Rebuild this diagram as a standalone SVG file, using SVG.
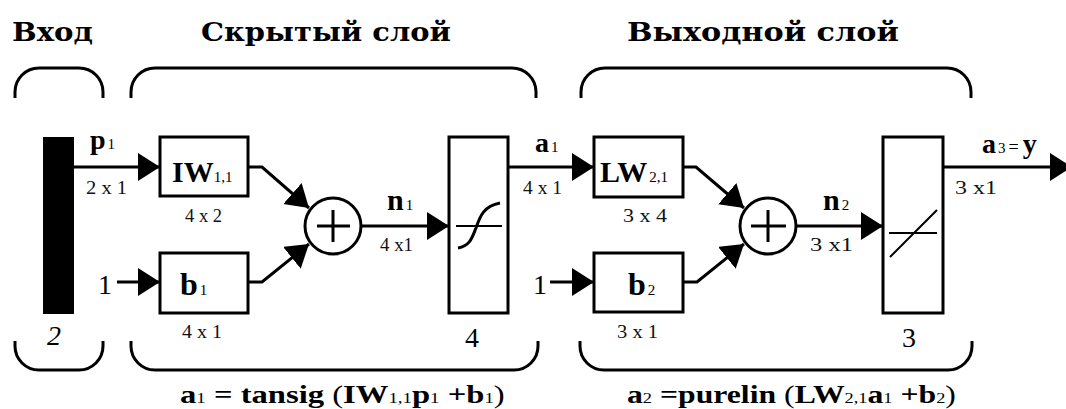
<svg xmlns="http://www.w3.org/2000/svg" width="1066" height="409" viewBox="0 0 1066 409">
<style>
.ln{fill:none;stroke:#000;stroke-width:3}
.thin{fill:none;stroke:#000;stroke-width:2}
.box{fill:#fff;stroke:#000;stroke-width:3}
.title{font-family:"DejaVu Serif","Liberation Serif",serif;font-weight:bold;font-size:26px;fill:#000}
.tx{font-family:"Liberation Serif","Times New Roman",serif;fill:#000}
.b{font-weight:bold}
.dim{font-family:"Liberation Serif","Times New Roman",serif;font-size:19px;fill:#111}
.num{font-family:"Liberation Serif","Times New Roman",serif;font-size:28px;fill:#000}
.s{font-size:15px;font-weight:normal}
</style>
<defs>
<marker id="ah" markerUnits="userSpaceOnUse" viewBox="0 0 24 30" markerWidth="24" markerHeight="30" refX="22" refY="14" orient="auto">
<path d="M0,0 L22,14 L0,28 z" fill="#000"/>
</marker>
</defs>
<rect width="1066" height="409" fill="#fff"/>

<g id="titles">
<text class="title" x="12" y="41" textLength="81" lengthAdjust="spacingAndGlyphs">Вход</text>
<text class="title" x="201" y="41" textLength="250" lengthAdjust="spacingAndGlyphs">Скрытый слой</text>
<text class="title" x="627" y="41" textLength="272" lengthAdjust="spacingAndGlyphs">Выходной слой</text>
</g>

<g id="brackets">
<path class="ln" d="M15,98 V92 A24,24 0 0 1 39,68 H79 A24,24 0 0 1 103,92 V98"/>
<path class="ln" d="M131,98 V92 A24,24 0 0 1 155,68 H512 A24,24 0 0 1 536,92 V98"/>
<path class="ln" d="M581,98 V92 A24,24 0 0 1 605,68 H947 A24,24 0 0 1 971,92 V98"/>
<path class="ln" d="M15,341 V346 A24,24 0 0 0 39,370 H79 A24,24 0 0 0 103,346 V341"/>
<path class="ln" d="M131,341 V346 A24,24 0 0 0 155,370 H514 A24,24 0 0 0 538,346 V341"/>
<path class="ln" d="M580,341 V346 A24,24 0 0 0 604,370 H948 A24,24 0 0 0 972,346 V341"/>
</g>

<g id="connectors">
<path class="ln" d="M74,167 H160" marker-end="url(#ah)"/>
<path class="ln" d="M117,282 H160" marker-end="url(#ah)"/>
<path class="ln" d="M248,167 H262 L309,208" marker-end="url(#ah)"/>
<path class="ln" d="M248,282 H262 L309,244" marker-end="url(#ah)"/>
<path class="ln" d="M361,226 H449" marker-end="url(#ah)"/>
<path class="ln" d="M508,167 H594" marker-end="url(#ah)"/>
<path class="ln" d="M550,282 H594" marker-end="url(#ah)"/>
<path class="ln" d="M683,167 H696 L744,208" marker-end="url(#ah)"/>
<path class="ln" d="M683,282 H697 L744,244" marker-end="url(#ah)"/>
<path class="ln" d="M796,226 H883" marker-end="url(#ah)"/>
<path class="ln" d="M943,167 H1072" marker-end="url(#ah)"/>
</g>

<g id="input">
<rect x="43" y="137" width="31" height="177" fill="#000"/>
<text class="num" x="47" y="345" font-style="italic">2</text>
</g>

<g id="IW">
<rect class="box" x="160" y="137" width="88" height="59"/>
<text class="tx b" x="172" y="182" font-size="30">IW<tspan class="s" font-size="15">1,1</tspan></text>
</g>

<g id="b1">
<rect class="box" x="160" y="253" width="88" height="60"/>
<text class="tx b" x="180" y="295" font-size="32">b<tspan class="s" font-size="16" dx="2">1</tspan></text>
</g>

<g id="sum1">
<circle class="ln" cx="333" cy="226" r="28"/>
<path class="ln" d="M317,226 H350 M333,210 V242"/>
</g>

<g id="tansig">
<rect class="box" x="449" y="137" width="59" height="176"/>
<path class="thin" d="M456,226 H502"/>
<path class="ln" d="M458,248 C470,246 472,238 476,228 C480,216 484,206 500,203"/>
<text class="num" x="465" y="347">4</text>
</g>

<g id="LW">
<rect class="box" x="594" y="137" width="89" height="60"/>
<text class="tx b" x="600" y="182" font-size="30">LW<tspan class="s" font-size="15" dx="2">2,1</tspan></text>
</g>

<g id="b2">
<rect class="box" x="594" y="253" width="89" height="59"/>
<text class="tx b" x="628" y="295" font-size="32">b<tspan class="s" font-size="16" dx="2">2</tspan></text>
</g>

<g id="sum2">
<circle class="ln" cx="768" cy="226" r="28"/>
<path class="ln" d="M751,226 H786 M768,210 V242"/>
</g>

<g id="purelin">
<rect class="box" x="883" y="137" width="60" height="176"/>
<path class="thin" d="M889,233 H937 M890,257 L937,210"/>
<text class="num" x="902" y="347">3</text>
</g>

<g id="labels">
<text class="tx b" x="90" y="149" font-size="28">p<tspan class="s" font-size="16" dx="2">1</tspan></text>
<text class="dim" x="86" y="194" textLength="41" lengthAdjust="spacingAndGlyphs">2 x 1</text>
<text class="dim" x="185" y="222" textLength="37" lengthAdjust="spacingAndGlyphs">4 x 2</text>
<text class="num" x="98" y="294">1</text>
<text class="dim" x="182" y="338" textLength="40" lengthAdjust="spacingAndGlyphs">4 x 1</text>
<text class="tx b" x="387" y="210" font-size="30">n<tspan class="s" font-size="16" dx="2">1</tspan></text>
<text class="dim" x="380" y="251" textLength="33" lengthAdjust="spacingAndGlyphs">4 x1</text>
<text class="tx b" x="535" y="152" font-size="28">a<tspan class="s" font-size="16" dx="2">1</tspan></text>
<text class="dim" x="523" y="194" textLength="39" lengthAdjust="spacingAndGlyphs">4 x 1</text>
<text class="num" x="533" y="294">1</text>
<text class="dim" x="623" y="222" textLength="44" lengthAdjust="spacingAndGlyphs">3 x 4</text>
<text class="dim" x="617" y="338" textLength="41" lengthAdjust="spacingAndGlyphs">3 x 1</text>
<text class="tx b" x="823" y="210" font-size="30">n<tspan class="s" font-size="16" dx="2">2</tspan></text>
<text class="dim" x="810" y="251" textLength="43" lengthAdjust="spacingAndGlyphs">3 x1</text>
<text class="tx b" x="982" y="153" font-size="28">a<tspan class="s" font-size="16" dx="2">3</tspan><tspan font-size="18" font-weight="normal" dx="3">=</tspan><tspan dx="4">y</tspan></text>
<text class="dim" x="955" y="194" textLength="42" lengthAdjust="spacingAndGlyphs">3 x1</text>
</g>

<g id="formulas">
<text class="tx b" font-size="26" transform="translate(180,403) scale(1.255,1)">a<tspan class="s">1</tspan> = tansig <tspan font-weight="normal">(</tspan>IW<tspan class="s">1,1</tspan>p<tspan class="s">1</tspan> +b<tspan class="s">1</tspan><tspan font-weight="normal">)</tspan></text>
<text class="tx b" font-size="26" transform="translate(627,403) scale(1.22,1)">a<tspan class="s">2</tspan> =purelin <tspan font-weight="normal">(</tspan>LW<tspan class="s">2,1</tspan>a<tspan class="s">1</tspan> +b<tspan class="s">2</tspan><tspan font-weight="normal">)</tspan></text>
</g>
</svg>
